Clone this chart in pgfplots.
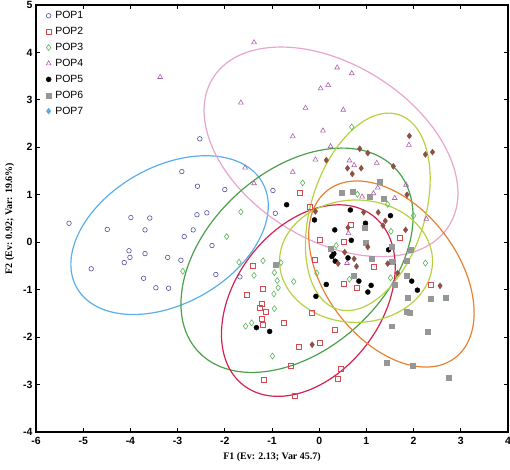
\documentclass[border=0pt]{standalone}
\usepackage{fontspec}
\setmainfont{Liberation Sans}
\newfontfamily\timesfont{Liberation Serif}
\usepackage{pgfplots}
\pgfplotsset{compat=1.18}
\definecolor{cpopone}{RGB}{80,80,165}
\definecolor{cpoptwo}{RGB}{215,75,80}
\definecolor{cpopthree}{RGB}{90,180,90}
\definecolor{cpopfour}{RGB}{175,95,175}
\definecolor{cpopsix}{RGB}{150,150,150}
\definecolor{cpopseven}{RGB}{140,80,68}
\definecolor{cpopsevenleg}{RGB}{95,170,230}
\definecolor{eblue}{RGB}{90,175,235}
\definecolor{epink}{RGB}{232,165,205}
\definecolor{egreen}{RGB}{75,160,75}
\definecolor{ecrimson}{RGB}{210,35,80}
\definecolor{eorange}{RGB}{230,130,50}
\definecolor{elime}{RGB}{180,210,65}
\begin{document}
\begin{tikzpicture}
\begin{axis}[
  width=472bp, height=427bp, scale only axis,
  xmin=-6, xmax=4, ymin=-4, ymax=5,
  xtick={-6,-5,...,4}, ytick={-4,-3,...,5},
  tick align=inside, major tick length=4bp,
  axis line style={line width=1.1bp},
  tick style={black, line width=0.8bp},
  ticklabel style={font=\fontsize{10.5}{11}\selectfont\bfseries},
  xticklabel style={yshift=-2bp},
  /pgf/number format/assume math mode=true,
  xlabel={F1 (Ev: 2.13; Var 45.7)},
  ylabel={F2 (Ev: 0.92; Var: 19.6\%)},
  label style={font=\timesfont\bfseries\fontsize{10}{11}\selectfont},
  xlabel style={yshift=-1bp},
  ylabel style={yshift=2bp},
  legend style={at={(rel axis cs:0,1)}, anchor=north west, xshift=7bp, yshift=-3bp,
    draw=none, fill=none, font=\fontsize{10.5}{12}\selectfont, row sep=4.7bp,
    column sep=3bp, nodes={inner sep=1.2bp}},
  legend cell align=left,
  legend image code/.code={\draw[mark repeat=2,mark phase=2] plot coordinates {(0bp,0bp)(4bp,0bp)(8bp,0bp)};},
]
\addplot[only marks, mark=o, mark size=2.3pt, cpopone, mark options={line width=0.6bp}] coordinates {
(-2.53,2.18)(-2.91,1.49)(-2.58,1.18)(-2.00,1.11)(-5.30,0.40)(-4.49,0.27)(-3.99,0.52)(-3.59,0.51)(-3.69,0.26)(-2.59,0.58)(-2.38,0.62)(-2.67,0.26)(-2.86,0.12)(-2.27,-0.07)(-4.03,-0.18)(-4.01,-0.32)(-3.69,-0.24)(-4.13,-0.43)(-3.21,-0.32)(-2.93,-0.38)(-4.83,-0.56)(-3.72,-0.76)(-3.46,-0.96)(-3.19,-0.97)(-2.19,-0.68)(-0.98,1.09)(-0.93,0.61)(-1.68,-0.73)
};
\addlegendentry{POP1}
\addplot[only marks, mark=square, mark size=2.5pt, cpoptwo, mark options={line width=0.6bp}] coordinates {
(-0.42,1.04)(-0.20,0.74)(0.67,0.37)(0.01,0.05)(0.52,0.01)(1.70,0.09)(-0.10,-0.37)(1.15,-0.51)(0.53,-0.88)(0.80,-0.96)(2.37,-0.89)(-0.15,-1.49)(0.33,-1.84)(-1.41,-0.49)(-1.19,-0.99)(-1.54,-1.11)(-1.22,-1.29)(-1.26,-1.38)(-1.13,-1.46)(-1.21,-1.62)(-1.19,-1.75)(-0.75,-1.69)(0.01,-2.12)(-0.43,-2.20)(-0.61,-2.60)(0.45,-2.66)(0.39,-2.87)(-1.17,-2.89)(-0.52,-3.23)
};
\addlegendentry{POP2}
\addplot[only marks, mark=diamond, mark size=3pt, cpopthree, mark options={line width=0.6bp}] coordinates {
(0.69,2.43)(-0.35,1.25)(0.81,1.01)(1.45,0.80)(-1.66,0.64)(2.00,0.56)(1.52,0.23)(-1.96,0.12)(0.36,-0.07)(-1.19,-0.39)(-1.70,-0.42)(-0.81,-0.43)(2.25,-0.44)(-2.89,-0.61)(-0.95,-0.64)(-0.05,-0.65)(-1.38,-0.70)(1.51,-0.75)(0.64,-0.78)(-0.89,-0.81)(-0.54,-0.83)(-0.87,-0.96)(-0.96,-1.09)(-0.95,-1.40)(-1.43,-1.70)(-1.56,-1.77)(-0.99,-2.40)
};
\addlegendentry{POP3}
\addplot[only marks, mark=triangle, mark size=2.8pt, cpopfour, mark options={line width=0.6bp}] coordinates {
(-3.37,3.48)(-1.38,4.21)(0.38,3.68)(0.69,3.56)(0.03,3.24)(0.19,3.31)(-1.66,2.94)(-0.29,2.83)(0.51,2.79)(0.08,2.35)(-0.56,2.23)(0.24,2.02)(1.90,2.05)(-0.08,1.74)(-0.56,1.48)(-1.57,1.57)(0.64,1.72)(0.74,1.62)(1.22,1.67)(-1.38,1.24)(1.24,1.15)(1.15,1.03)(0.91,0.96)(1.60,0.93)(1.84,1.21)(2.27,0.49)(0.62,0.19)(0.59,-0.44)
};
\addlegendentry{POP4}
\addplot[only marks, mark=*, mark size=2.5pt, black] coordinates {
(-0.69,0.79)(0.66,0.68)(1.51,0.56)(-0.10,0.47)(0.98,0.40)(0.33,0.26)(0.68,0.04)(1.47,-0.16)(0.31,-0.24)(0.27,-0.30)(0.61,-0.33)(0.34,-0.40)(1.96,-0.82)(0.15,-0.89)(0.84,-0.82)(1.10,-0.91)(2.08,-1.01)(1.03,-1.05)(-0.07,-1.14)(-1.33,-1.80)(-1.05,-1.88)
};
\addlegendentry{POP5}
\addplot[only marks, mark=square*, mark size=2.5pt, cpopsix] coordinates {
(1.28,1.27)(0.48,1.05)(0.70,1.07)(1.08,0.95)(1.36,0.91)(0.96,0.30)(0.98,0.00)(0.25,-0.14)(1.53,-0.09)(1.93,-0.16)(1.11,-0.35)(1.54,-0.41)(1.86,-0.38)(0.73,-0.70)(1.86,-0.70)(1.60,-0.89)(2.37,-1.20)(2.68,-1.16)(1.88,-1.17)(1.86,-1.46)(1.91,-1.49)(1.53,-1.77)(2.30,-1.88)(1.42,-2.54)(1.98,-2.60)(2.75,-2.86)(-0.93,-0.47)
};
\addlegendentry{POP6}
\addplot[only marks, mark=diamond*, mark size=3pt, cpopseven, forget plot] coordinates {
(1.91,2.24)(2.25,1.85)(2.40,1.90)(0.86,1.97)(1.03,1.88)(0.15,1.73)(0.60,1.56)(0.89,1.56)(0.70,1.44)(1.57,1.60)(1.86,1.00)(0.94,0.63)(1.25,0.63)(1.40,0.45)(1.35,0.35)(0.61,0.31)(1.83,0.26)(-0.08,0.65)(1.03,-0.10)(0.54,-0.21)(0.40,-0.45)(0.74,-0.35)(0.79,-0.51)(1.45,-0.45)(1.66,-0.65)(2.56,-0.92)(-0.15,-2.16)
};
\addlegendimage{only marks, mark=diamond*, mark size=3pt, cpopsevenleg}
\addlegendentry{POP7}
% confidence ellipses
\draw[eblue, line width=1.2bp, rotate around={29.6:(axis cs:-3.17,0.15)}] (axis cs:-3.17,0.15) ellipse [x radius=2.26, y radius=1.44];
\draw[epink, line width=1.2bp, rotate around={-32:(axis cs:0.25,1.905)}] (axis cs:0.25,1.905) ellipse [x radius=2.95, y radius=1.85];
\draw[egreen, line width=1.2bp, rotate around={42.5:(axis cs:-0.47,-0.38)}] (axis cs:-0.47,-0.38) ellipse [x radius=2.85, y radius=1.88];
\draw[ecrimson, line width=1.2bp, rotate around={52.8:(axis cs:-0.23,-1.23)}] (axis cs:-0.23,-1.23) ellipse [x radius=2.26, y radius=1.54];
\draw[eorange, line width=1.2bp, rotate around={-52.9:(axis cs:1.53,-0.67)}] (axis cs:1.53,-0.67) ellipse [x radius=2.23, y radius=1.40];
\draw[elime, line width=1.2bp, rotate around={72.5:(axis cs:1.03,0.64)}] (axis cs:1.03,0.64) ellipse [x radius=2.16, y radius=1.20];
\draw[elime, line width=1.2bp] (axis cs:0.78,-0.40) ellipse [x radius=1.62, y radius=1.29];
\end{axis}
\pgfresetboundingbox
\path (-36bp,-38bp) rectangle (474bp,432bp);
\end{tikzpicture}
\end{document}
